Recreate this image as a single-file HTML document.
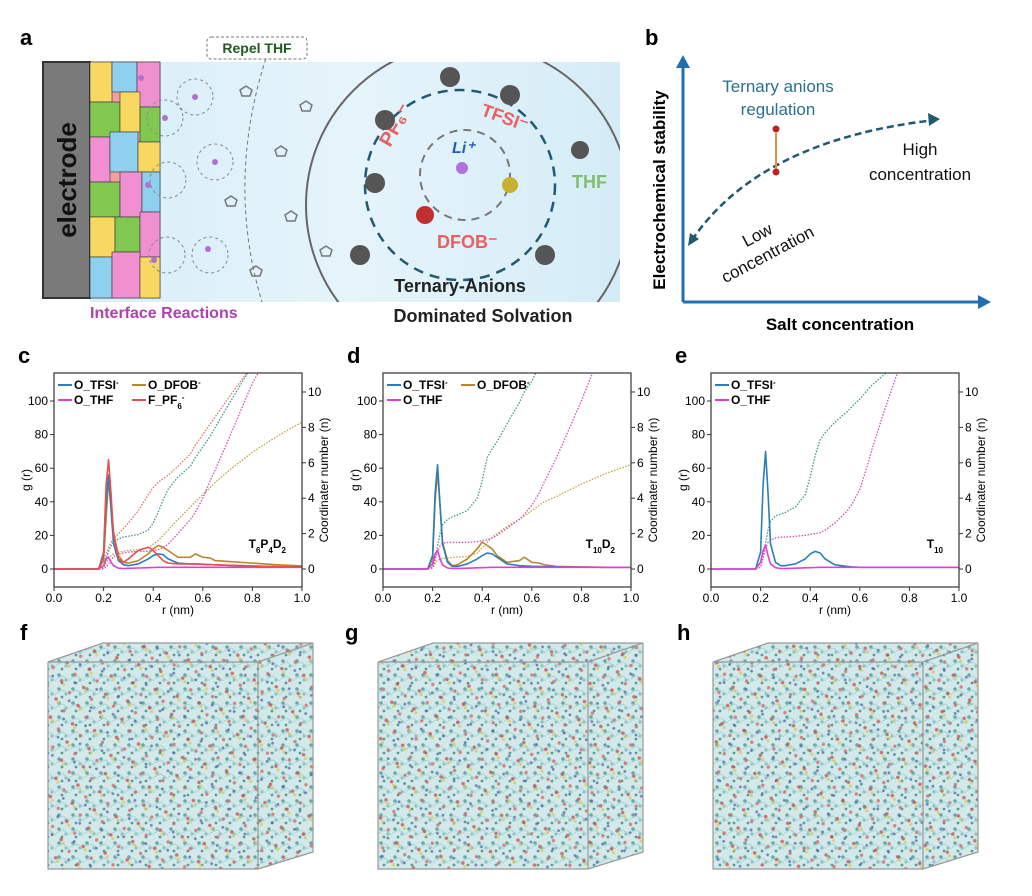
<!DOCTYPE html>
<html><head><meta charset="utf-8"><style>
body{margin:0;background:#fff}
svg{display:block;font-family:"Liberation Sans",Arial,sans-serif}
</style></head><body>
<svg id="fig" width="1032" height="896" viewBox="0 0 1032 896" xmlns="http://www.w3.org/2000/svg">
<defs>
<linearGradient id="bg" x1="0" x2="1" y1="0" y2="0"><stop offset="0" stop-color="#d8eef8"/><stop offset="0.5" stop-color="#e6f4fb"/><stop offset="1" stop-color="#d4ecf7"/></linearGradient>
<pattern id="mol" width="14" height="14" patternUnits="userSpaceOnUse"><rect width="14" height="14" fill="#d3e9e9"/><circle cx="3" cy="3" r="1.8" fill="#6aa8a8"/><circle cx="10" cy="8" r="1.6" fill="#8cc2c2"/><circle cx="6" cy="11" r="1.4" fill="#5a9a9a"/><path d="M0 7 L7 4 L14 9" stroke="#a8d6d6" stroke-width="1" fill="none"/></pattern>
<pattern id="mol2" width="23" height="19" patternUnits="userSpaceOnUse" patternTransform="rotate(17)"><circle cx="5" cy="6" r="1.8" fill="#c84a4a"/><circle cx="8" cy="9" r="1.6" fill="#e0c850"/><circle cx="16" cy="15" r="1.7" fill="#d86060"/><circle cx="18" cy="4" r="1.4" fill="#4a60b0"/></pattern>
<clipPath id="aclip"><rect x="90" y="62" width="530" height="240"/></clipPath>
</defs>

<!-- panel a -->
<text x="20" y="45" font-size="22" font-weight="bold">a</text>
<rect x="90" y="62" width="530" height="240" fill="url(#bg)"/>
<rect x="43" y="62" width="47" height="236" fill="#7a7a7a" stroke="#333" stroke-width="2"/>
<text transform="translate(76,180) rotate(-90)" text-anchor="middle" font-size="26" font-weight="bold" fill="#111">electrode</text>
<g stroke="#333" stroke-width="0.6">
<rect x="90" y="62" width="70" height="236" fill="#f2a0a0"/>
<rect x="90" y="62" width="22" height="40" fill="#f8d860"/><rect x="112" y="62" width="25" height="30" fill="#8fd0f0"/><rect x="137" y="62" width="23" height="45" fill="#f090d0"/>
<rect x="90" y="102" width="30" height="35" fill="#80c850"/><rect x="120" y="92" width="20" height="40" fill="#f8d860"/><rect x="140" y="107" width="20" height="35" fill="#80c850"/>
<rect x="90" y="137" width="20" height="45" fill="#f090d0"/><rect x="110" y="132" width="28" height="40" fill="#8fd0f0"/><rect x="138" y="142" width="22" height="30" fill="#f8d860"/>
<rect x="90" y="182" width="30" height="35" fill="#80c850"/><rect x="120" y="172" width="22" height="45" fill="#f090d0"/><rect x="142" y="172" width="18" height="40" fill="#8fd0f0"/>
<rect x="90" y="217" width="25" height="40" fill="#f8d860"/><rect x="115" y="217" width="25" height="35" fill="#80c850"/><rect x="140" y="212" width="20" height="45" fill="#f090d0"/>
<rect x="90" y="257" width="22" height="41" fill="#8fd0f0"/><rect x="112" y="252" width="28" height="46" fill="#f090d0"/><rect x="140" y="257" width="20" height="41" fill="#f8d860"/>
</g>
<g fill="none" stroke="#888" stroke-dasharray="3,3">
<circle cx="165" cy="118" r="18"/><circle cx="195" cy="97" r="18"/><circle cx="215" cy="162" r="18"/><circle cx="168" cy="180" r="18"/><circle cx="167" cy="255" r="18"/><circle cx="210" cy="255" r="18"/>
</g>
<g fill="#b070d0"><circle cx="165" cy="118" r="3"/><circle cx="195" cy="97" r="3"/><circle cx="215" cy="162" r="3"/><circle cx="148" cy="185" r="3"/><circle cx="154" cy="260" r="3"/><circle cx="208" cy="249" r="3"/><circle cx="141" cy="78" r="3"/></g>
<g fill="none" stroke="#777" stroke-width="1.5"><path d="M240 90 l6 -4 l6 4 l-2 6 h-8z"/><path d="M300 105 l6 -4 l6 4 l-2 6 h-8z"/><path d="M275 150 l6 -4 l6 4 l-2 6 h-8z"/><path d="M285 215 l6 -4 l6 4 l-2 6 h-8z"/><path d="M250 270 l6 -4 l6 4 l-2 6 h-8z"/><path d="M320 250 l6 -4 l6 4 l-2 6 h-8z"/><path d="M225 200 l6 -4 l6 4 l-2 6 h-8z"/></g>
<path d="M268 52 Q225 180 262 302" fill="none" stroke="#777" stroke-dasharray="4,3"/>
<rect x="207" y="37" width="100" height="22" rx="4" fill="#fff" stroke="#777" stroke-dasharray="3,2"/>
<text x="257" y="53" text-anchor="middle" font-size="14" font-weight="bold" fill="#1f5a20">Repel THF</text>
<text x="90" y="318" font-size="16" font-weight="bold" fill="#b040b0">Interface Reactions</text>
<g clip-path="url(#aclip)"><circle cx="468" cy="205" r="162" fill="none" stroke="#666" stroke-width="2"/></g>
<circle cx="460" cy="185" r="95" fill="none" stroke="#1f5a70" stroke-width="2.5" stroke-dasharray="10,7"/>
<circle cx="465" cy="175" r="45" fill="none" stroke="#777" stroke-width="2" stroke-dasharray="8,6"/>
<circle cx="462" cy="168" r="6" fill="#b070e0"/>
<text x="452" y="153" font-size="16" font-weight="bold" fill="#2060b0" font-style="italic">Li⁺</text>
<text transform="translate(390,148) rotate(-60)" font-size="20" font-weight="bold" fill="#e86060">PF₆⁻</text>
<text transform="translate(480,115) rotate(20)" font-size="18" font-weight="bold" fill="#e86060">TFSI⁻</text>
<text x="437" y="248" font-size="18" font-weight="bold" fill="#e86060">DFOB⁻</text>
<text x="572" y="188" font-size="18" font-weight="bold" fill="#80c070">THF</text>
<g fill="#555"><circle cx="450" cy="77" r="10"/><circle cx="510" cy="95" r="10"/><circle cx="385" cy="120" r="10"/><circle cx="375" cy="183" r="10"/><circle cx="360" cy="255" r="10"/><circle cx="545" cy="255" r="10"/><circle cx="580" cy="150" r="9"/><circle cx="425" cy="215" r="9" fill="#c03030"/><circle cx="510" cy="185" r="8" fill="#c8b030"/></g>
<text x="460" y="292" text-anchor="middle" font-size="18" font-weight="bold" fill="#222">Ternary-Anions</text>
<text x="483" y="322" text-anchor="middle" font-size="18" font-weight="bold" fill="#222">Dominated Solvation</text>

<!-- panel b -->
<text x="645" y="45" font-size="22" font-weight="bold">b</text>
<g stroke="#2070b0" stroke-width="3" fill="#2070b0">
<line x1="683" y1="302" x2="683" y2="65"/><path d="M676 68 L683 55 L690 68Z" stroke="none"/>
<line x1="683" y1="302" x2="980" y2="302"/><path d="M978 295 L991 302 L978 309Z" stroke="none"/>
</g>
<text transform="translate(665,190) rotate(-90)" text-anchor="middle" font-size="17" font-weight="bold">Electrochemical stability</text>
<text x="840" y="330" text-anchor="middle" font-size="17" font-weight="bold">Salt concentration</text>
<path d="M692 240 Q760 140 935 120" fill="none" stroke="#1f5a70" stroke-width="2.5" stroke-dasharray="7,4"/>
<path d="M688 246 L690 233 L699 239Z M940 119 L928 113 L929 126Z" fill="#1f5a70"/>
<line x1="776" y1="170" x2="776" y2="133" stroke="#e89040" stroke-width="2"/>
<circle cx="776" cy="172" r="3.5" fill="#c02020"/><circle cx="776" cy="129" r="3.5" fill="#c02020"/>
<text x="778" y="92" text-anchor="middle" font-size="17" fill="#2a7090">Ternary anions</text>
<text x="778" y="115" text-anchor="middle" font-size="17" fill="#2a7090">regulation</text>
<text x="920" y="155" text-anchor="middle" font-size="17" fill="#111">High</text>
<text x="920" y="180" text-anchor="middle" font-size="17" fill="#111">concentration</text>
<text transform="translate(760,240) rotate(-28)" text-anchor="middle" font-size="17" fill="#111"><tspan x="0" dy="0">Low</tspan><tspan x="0" dy="22">concentration</tspan></text>

<g id="charts"></g>

<!-- bottom panels -->
<text x="20" y="640" font-size="22" font-weight="bold">f</text>
<text x="345" y="640" font-size="22" font-weight="bold">g</text>
<text x="677" y="640" font-size="22" font-weight="bold">h</text>
<g id="boxes"></g>
</svg>
<script>
const NS='http://www.w3.org/2000/svg';
const fig=document.getElementById('charts');
// shared r grid (nm)
const rVals=[0,0.18,0.2,0.21,0.22,0.23,0.24,0.26,0.28,0.3,0.34,0.38,0.4,0.42,0.44,0.46,0.5,0.55,0.57,0.6,0.63,0.65,0.7,0.8,0.9,1.0];
const xTicks=[0,0.2,0.4,0.6,0.8,1.0];
const xTickLabels=['0.0','0.2','0.4','0.6','0.8','1.0'];
const gTicks=[0,20,40,60,80,100];
const nTicks=[0,2,4,6,8,10];
// chart c
const cTfsiG=[0,0,8,40,56,35,15,5,2.5,2,3,6,8,9,8.5,6,3.5,3,3,2.8,2.6,2.5,2.2,1.8,1.4,1.2];
const cDfobG=[0,0,5,30,52,40,22,8,4,3.5,5,9,12,14,13,11,7,7,9,7,6.5,5,4.5,3.5,2.5,1.8];
const cThfG=[0,0,2,6,7,4,2,0.5,0.3,0.4,0.6,0.8,0.9,1,1,1,1,1,1,1,1,1,1,1,1,1];
const cPf6G=[0,0,10,50,65,45,20,6,4,6,11,13,11,8,5,3.5,3,3,3,2.8,2.6,2.5,2.2,1.8,1.4,1.2];
const cTfsiN=[0,0,0.1,0.5,1,1.3,1.5,1.7,1.8,1.85,1.95,2.2,2.6,3.2,3.9,4.5,5.2,5.8,6.3,6.9,7.5,8,9.2,11.5,14,16];
const cPf6N=[0,0,0.2,0.8,1.2,1.5,1.7,2,2.3,2.6,3.3,4.2,4.6,4.9,5.1,5.3,5.8,6.5,7,7.6,8.2,8.6,9.6,11.5,14,16];
const cDfobN=[0,0,0.05,0.3,0.6,0.75,0.85,0.95,1,1.05,1.1,1.2,1.4,1.6,1.9,2.2,2.8,3.5,3.8,4.2,4.6,4.9,5.5,6.6,7.5,8.3];
const cThfN=[0,0,0,0.1,0.3,0.5,0.7,0.85,0.9,0.95,1,1,1.05,1.1,1.2,1.4,2,2.8,3.2,4,5,5.6,7.2,10.5,13,15];
// chart d
const dTfsiG=[0,0,8,45,62,38,15,4,1.5,1.5,3,6,8,9.5,9,7,3,2,1.8,1.6,1.5,1.4,1.2,1.1,1,1];
const dDfobG=[0,0,6,40,58,38,16,5,2,2.5,6,12,16,14,12,8,4,5,7,4,3.5,2.5,1.5,1.2,1,1];
const dThfG=[0,0,3,9,11,6,2.5,0.6,0.3,0.3,0.5,0.7,0.8,0.9,1,1,1,1,1,1,1,1,1,1,1,1];
const dTfsiN=[0,0,0.1,0.6,1.3,2,2.5,2.8,2.95,3.05,3.3,4,5,6.3,6.8,7.2,8.2,9.4,10,10.6,11.5,12,13,15,17,19];
const dDfobN=[0,0,0.05,0.3,0.5,0.55,0.6,0.62,0.65,0.68,0.7,0.9,1.2,1.5,1.8,2,2.4,2.8,3,3.3,3.6,3.8,4.1,4.8,5.4,5.9];
const dThfN=[0,0,0.05,0.5,1,1.3,1.45,1.5,1.5,1.5,1.5,1.55,1.6,1.65,1.75,1.9,2.3,2.8,3.1,3.6,4.3,4.9,6.3,9.5,13,16];
// chart e
const eTfsiG=[0,0,10,50,70,45,15,4,2,2,3,6,9,10.5,9.5,6,2.5,1.5,1.2,1,1,1,1,1,1,1];
const eThfG=[0,0,4,11,14,8,3,0.8,0.3,0.3,0.5,0.7,0.8,0.9,1,1,1,1,1,1,1,1,1,1,1,1];
const eTfsiN=[0,0,0.1,0.7,1.5,2.2,2.7,3,3.1,3.2,3.5,4.2,5.2,6.4,7.3,7.7,8.3,8.9,9.2,9.6,10.1,10.4,11,12.5,14,15];
const eThfN=[0,0,0.1,0.6,1.2,1.5,1.65,1.75,1.8,1.8,1.85,1.9,1.95,2,2.05,2.2,2.6,3.3,3.7,4.5,5.8,6.8,9,13,16,18];

const COL={tfsi:'#2a7fb8',dfob:'#b8862e',thf:'#e040d0',pf6:'#e85050'};
const NCOL={tfsi:'#3a9a8a',dfob:'#c0a040',thf:'#d050b0',pf6:'#e07060'};

function el(tag,attrs,parent){const e=document.createElementNS(NS,tag);for(const k in attrs)e.setAttribute(k,attrs[k]);parent.appendChild(e);return e;}

function chart(id,x0,label,lbl,gSeries,nSeries,legend){
  const x1=x0+248, top=373, bot=587;
  const X=r=>x0+r*(x1-x0);
  const YG=g=>569-g*1.68;
  const YN=n=>569-n*17.7;
  const g=el('g',{},fig);
  
  
  const t=el('text',{x:x0-36,y:363,'font-size':22,'font-weight':'bold'},g);t.textContent=label;
  
  
  const clipId='clip'+id;
  const cp=el('clipPath',{id:clipId},g);el('rect',{x:x0,y:top,width:x1-x0,height:bot-top},cp);
  const plot=el('g',{'clip-path':'url(#'+clipId+')'},g);
  nSeries.forEach(([k,arr])=>{
    const p=el('polyline',{points:rVals.map((r,i)=>X(r)+','+YN(arr[i])).join(' '),fill:'none',stroke:NCOL[k],'stroke-width':1.3,'stroke-dasharray':'1.5,1.5'},plot);
    
    
  });
  gSeries.forEach(([k,arr])=>{
    const p=el('polyline',{points:rVals.map((r,i)=>X(r)+','+YG(arr[i])).join(' '),fill:'none',stroke:COL[k],'stroke-width':1.6,'stroke-linejoin':'round'},plot);
    
    
  });
  const fr=el('rect',{x:x0,y:top,width:x1-x0,height:bot-top,fill:'none',stroke:'#333','stroke-width':1.2},g);
  
  
  xTicks.forEach((v,i)=>{
    el('line',{x1:X(v),x2:X(v),y1:bot,y2:bot+4,stroke:'#333'},g);
    const tx=el('text',{x:X(v),y:bot+15,'text-anchor':'middle','font-size':12},g);tx.textContent=xTickLabels[i];
    
    
  });
  gTicks.forEach(v=>{
    el('line',{x1:x0-4,x2:x0,y1:YG(v),y2:YG(v),stroke:'#333'},g);
    const tx=el('text',{x:x0-6,y:YG(v)+4,'text-anchor':'end','font-size':12},g);tx.textContent=v;
    
    
  });
  nTicks.forEach(v=>{
    el('line',{x1:x1,x2:x1+4,y1:YN(v),y2:YN(v),stroke:'#333'},g);
    const tx=el('text',{x:x1+6,y:YN(v)+4,'font-size':12},g);tx.textContent=v;
    
    
  });
  const xt=el('text',{x:(x0+x1)/2,y:614,'text-anchor':'middle','font-size':12},g);xt.textContent='r (nm)';
  
  
  const yt=el('text',{transform:`translate(${x0-24},480) rotate(-90)`,'text-anchor':'middle','font-size':12},g);yt.textContent='g (r)';
  
  
  const y2=el('text',{transform:`translate(${x1+26},480) rotate(-90)`,'text-anchor':'middle','font-size':12},g);y2.textContent='Coordinater number (n)';
  
  
  const an=el('text',{x:x1-16,y:548,'text-anchor':'end','font-size':12,'font-weight':'bold'},g);an.innerHTML=lbl;
  
  
  legend.forEach(([k,txt,col,row])=>{
    const lx=x0+4+col*74, ly=top+12+row*15;
    el('line',{x1:lx,x2:lx+14,y1:ly,y2:ly,stroke:COL[k],'stroke-width':2},g);
    const lt=el('text',{x:lx+16,y:ly+4,'font-size':12,'font-weight':'bold'},g);lt.innerHTML=txt;
    
    
  });
}
chart('c',54,'c','T<tspan baseline-shift="sub" font-size="8">6</tspan>P<tspan baseline-shift="sub" font-size="8">4</tspan>D<tspan baseline-shift="sub" font-size="8">2</tspan>',
 [['dfob',cDfobG],['tfsi',cTfsiG],['thf',cThfG],['pf6',cPf6G]],[['tfsi',cTfsiN],['pf6',cPf6N],['dfob',cDfobN],['thf',cThfN]],
 [['tfsi','O_TFSI<tspan baseline-shift="super" font-size="8">-</tspan>',0,0],['dfob','O_DFOB<tspan baseline-shift="super" font-size="8">-</tspan>',1,0],['thf','O_THF',0,1],['pf6','F_PF<tspan baseline-shift="sub" font-size="8">6</tspan><tspan baseline-shift="super" font-size="8">-</tspan>',1,1]]);
chart('d',383,'d','T<tspan baseline-shift="sub" font-size="8">10</tspan>D<tspan baseline-shift="sub" font-size="8">2</tspan>',
 [['dfob',dDfobG],['tfsi',dTfsiG],['thf',dThfG]],[['tfsi',dTfsiN],['dfob',dDfobN],['thf',dThfN]],
 [['tfsi','O_TFSI<tspan baseline-shift="super" font-size="8">-</tspan>',0,0],['dfob','O_DFOB<tspan baseline-shift="super" font-size="8">-</tspan>',1,0],['thf','O_THF',0,1]]);
chart('e',711,'e','T<tspan baseline-shift="sub" font-size="8">10</tspan>',
 [['tfsi',eTfsiG],['thf',eThfG]],[['tfsi',eTfsiN],['thf',eThfN]],
 [['tfsi','O_TFSI<tspan baseline-shift="super" font-size="8">-</tspan>',0,0],['thf','O_THF',0,1]]);

// simulation boxes
const boxes=document.getElementById('boxes');
[[48,'f'],[378,'g'],[713,'h']].forEach(([bx,id])=>{
  const g=el('g',{},boxes);
  
  
  const shape=`M${bx} 662 L${bx+55} 643 L${bx+265} 643 L${bx+265} 852 L${bx+210} 869 L${bx} 869 Z`;
  el('path',{d:shape,fill:'url(#mol)'},g);
  el('path',{d:shape,fill:'url(#mol2)',opacity:0.75},g);
  el('path',{d:`M${bx} 662 L${bx+55} 643 L${bx+265} 643 L${bx+210} 662 Z M${bx+210} 662 L${bx+210} 869 M${bx+265} 643 L${bx+265} 852 L${bx+210} 869 M${bx} 662 L${bx} 869 L${bx+210} 869`,fill:'none',stroke:'#999','stroke-width':1.2},g);
});
</script>
</body></html>
